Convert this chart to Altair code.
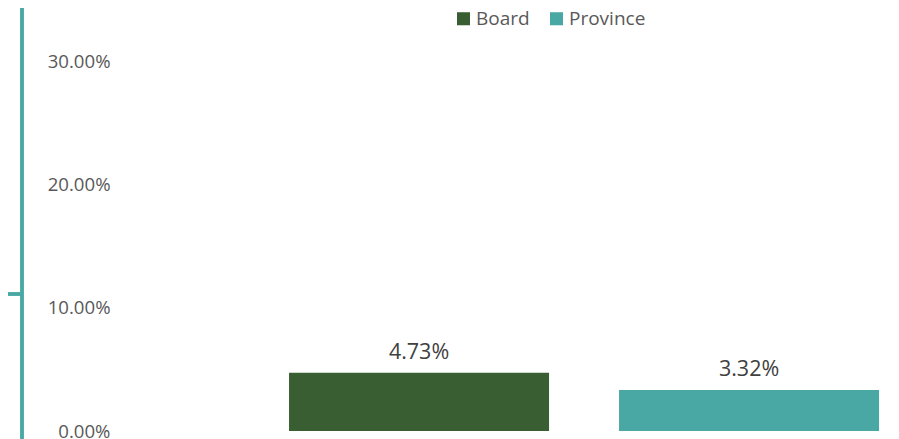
import altair as alt
import pandas as pd

categories = ["Board", "Province"]
values = [0.0473, 0.0332]
colors = ["#395E31", "#49A8A3"]
y_ticks = [0.0, 0.1, 0.2, 0.3]

df = pd.DataFrame({"group": categories, "value": values})

FONT = "Open Sans"

x = alt.X("group:N", axis=None,
          scale=alt.Scale(paddingInner=0.2121, paddingOuter=0.2742, align=0.934))
y = alt.Y("value:Q",
          scale=alt.Scale(domain=[0, 0.3], nice=False, zero=True),
          axis=alt.Axis(values=y_ticks, format=".2%", title=None, domain=False,
                        ticks=False, grid=False, labelPadding=10,
                        labelFont=FONT, labelFontSize=18.6, labelColor="#595959"))

bars = alt.Chart(df).mark_bar().encode(
    x=x, y=y,
    color=alt.Color("group:N",
                    scale=alt.Scale(domain=categories, range=colors),
                    legend=alt.Legend(title=None, orient="none", direction="horizontal",
                                      legendX=334, legendY=-52,
                                      symbolType="square", symbolSize=170,
                                      symbolStrokeWidth=0, symbolOffset=0,
                                      labelFont=FONT, labelFontSize=19,
                                      labelColor="#595959", labelOffset=3,
                                      columnPadding=17)),
)

labels = alt.Chart(df).mark_text(baseline="alphabetic", dy=-14, font=FONT, fontSize=21.5,
                                 color="#404040").encode(
    x=x, y=y, text=alt.Text("value:Q", format=".2%")
)

vline = alt.Chart(df).mark_rule(color="#49A8A3", strokeWidth=3.5).encode(
    x=alt.value(-98), y=alt.value(-70), y2=alt.value(400)
)
hline = alt.Chart(df).mark_rule(color="#49A8A3", strokeWidth=3.5).encode(
    x=alt.value(-125), x2=alt.value(-98), y=alt.value(233)
)

chart = alt.layer(vline, hline, bars, labels).properties(
    width=771, height=370,
    autosize=alt.AutoSizeParams(type="none"),
    padding={"left": 112, "top": 53, "right": 0, "bottom": 12},
).configure(font=FONT).configure_view(stroke=None)

chart.save("out.html", embed_options={"renderer": "svg", "actions": False})
